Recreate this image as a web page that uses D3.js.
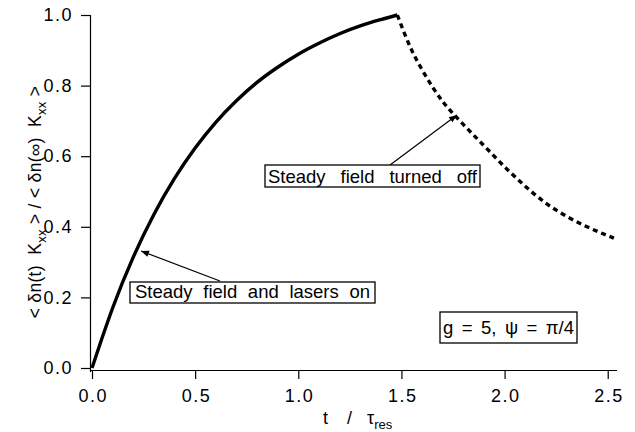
<!DOCTYPE html>
<html><head><meta charset="utf-8">
<script src="https://cdn.jsdelivr.net/npm/d3@7"></script>
<style>
body{margin:0;background:#fff;}
svg{font-family:"Liberation Sans",Arial,Helvetica,sans-serif;}
</style></head>
<body><svg id="c" width="635" height="432"></svg>
<script>
const xTicks = [0, 0.5, 1.0, 1.5, 2.0, 2.5];
const yTicks = [0, 0.2, 0.4, 0.6, 0.8, 1.0];
// field on (solid)
const onT = [0, 0.05, 0.1, 0.2, 0.3, 0.4, 0.5, 0.6, 0.7, 0.8, 0.9, 1.0, 1.1, 1.2, 1.3, 1.4, 1.48];
const onV = [0, 0.087, 0.170, 0.314, 0.435, 0.537, 0.623, 0.696, 0.757, 0.809, 0.852, 0.889, 0.920, 0.947, 0.969, 0.987, 1.0];
// field off (dashed)
const offT = [1.48, 1.55, 1.6, 1.7, 1.8, 1.9, 2.0, 2.1, 2.2, 2.3, 2.4, 2.5, 2.53];
const offV = [1.0, 0.90, 0.845, 0.755, 0.69, 0.63, 0.57, 0.515, 0.467, 0.43, 0.40, 0.375, 0.368];

const svg = d3.select("#c");
const x = d3.scaleLinear().domain([0, 2.545]).range([92, 617]);
const y = d3.scaleLinear().domain([0, 1]).range([368, 15]);

const fs = 18;
// axes
const xa = svg.append("g").attr("transform","translate(0,370)")
  .call(d3.axisBottom(x).tickValues(xTicks).tickFormat(d3.format(".1f")).tickSizeOuter(0).tickSize(9).tickPadding(10));
const ya = svg.append("g").attr("transform","translate(90,0)")
  .call(d3.axisLeft(y).tickValues(yTicks).tickFormat(d3.format(".1f")).tickSizeOuter(0).tickSize(9).tickPadding(8));
[xa, ya].forEach(a=>{
  a.selectAll("text").attr("font-size",fs).attr("fill","#000").style("letter-spacing","1.5px");
  a.selectAll("line,path").attr("stroke","#000").attr("stroke-width",1.2);
});
xa.selectAll("text").attr("dx","0.75px");
xa.select(".domain").attr("d","M90,0.5H617");
ya.select(".domain").attr("d","M0.5,15V372");

const line = d3.line().x(d=>x(d[0])).y(d=>y(d[1])).curve(d3.curveMonotoneX);
svg.append("path").datum(onT.map((t,i)=>[t,onV[i]])).attr("d", line)
  .attr("fill","none").attr("stroke","#000").attr("stroke-width",3.4);
svg.append("path").datum(offT.map((t,i)=>[t,offV[i]])).attr("d", line)
  .attr("fill","none").attr("stroke","#000").attr("stroke-width",3.4).attr("stroke-dasharray","5,4");

// y axis label
const yl = svg.append("text").attr("transform","translate(41,202) rotate(-90)")
  .attr("text-anchor","middle").attr("font-size",17.5)
  .style("white-space","pre").style("letter-spacing","0.3px");
yl.append("tspan").text("< δn(t)  K");
yl.append("tspan").attr("font-size",13).attr("dy",5).text("xx");
yl.append("tspan").attr("dy",-5).text(" > / < δn(∞)  K");
yl.append("tspan").attr("font-size",13).attr("dy",5).text("xx");
yl.append("tspan").attr("dy",-5).text(" >");

// x axis label
svg.append("text").attr("x",323).attr("y",424).attr("font-size",fs).text("t");
svg.append("text").attr("x",347).attr("y",424).attr("font-size",fs).text("/");
const tl = svg.append("text").attr("x",367).attr("y",424).attr("font-size",fs);
tl.append("tspan").text("τ");
tl.append("tspan").attr("font-size",13).attr("dy",5).text("res");

// arrow marker
svg.append("defs").append("marker").attr("id","ah").attr("viewBox","0 0 10 10")
  .attr("refX",10).attr("refY",5).attr("markerWidth",12).attr("markerHeight",8).attr("orient","auto")
  .attr("markerUnits","userSpaceOnUse")
  .append("path").attr("d","M0,1L10,5L0,9Z").attr("fill","#000");

function box(x0,y0,w,h,txt,pad,base){
  svg.append("rect").attr("x",x0).attr("y",y0).attr("width",w).attr("height",h)
    .attr("fill","#fff").attr("stroke","#000").attr("stroke-width",1.3);
  const t = svg.append("text").attr("x",x0+pad).attr("y",base)
    .attr("font-size",18.5).text(txt);
  const L = t.node().getComputedTextLength();
  const ns = txt.split(" ").length - 1;
  t.style("word-spacing", Math.max(0,(w - 2*pad - L) / ns) + "px");
}
svg.append("line").attr("x1",390).attr("y1",165).attr("x2",457).attr("y2",115)
  .attr("stroke","#000").attr("stroke-width",1.2).attr("marker-end","url(#ah)");
svg.append("line").attr("x1",220).attr("y1",281).attr("x2",141).attr("y2",251)
  .attr("stroke","#000").attr("stroke-width",1.2).attr("marker-end","url(#ah)");
box(265,165,215,22,"Steady field turned off",3,183);
box(130,282,245,21,"Steady field and lasers on",5,298);
box(440,312,137,31,"g = 5, ψ = π/4",3,334);
</script></body></html>
